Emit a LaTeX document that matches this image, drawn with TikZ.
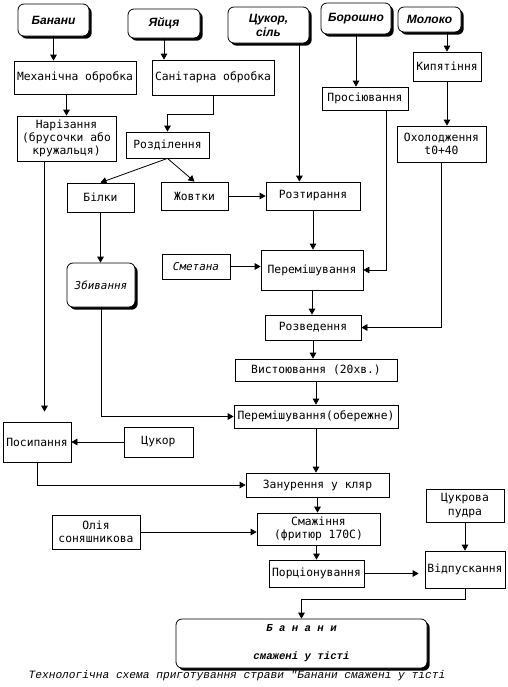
\documentclass[tikz,border=0pt]{standalone}
\usepackage{fontspec}
\setmonofont{Liberation Mono}
\newfontfamily\boxfont{DejaVu Sans Mono}
\newfontfamily\headfont{Liberation Sans}
\usetikzlibrary{arrows.meta,shadows}

\tikzset{
  sz/.style 2 args={minimum width=#1*0.75pt,minimum height=#2*0.75pt},
  proc/.style={draw,line width=0.6pt,inner sep=1pt,align=center,font=\boxfont\fontsize{8.5}{10}\selectfont},
  src/.style={draw,line width=0.6pt,rounded corners=4.5pt,fill=white,align=center,
    drop shadow={shadow xshift=2pt,shadow yshift=-2pt,opacity=1,fill=black},
    font=\headfont\bfseries\itshape\fontsize{9}{10.5}\selectfont},
  slant/.style={font=\boxfont\itshape\fontsize{8.2}{10}\selectfont},
  flow/.style={draw,line width=0.6pt,-{Triangle[width=5pt,length=4.5pt]}},
}

\begin{document}
\begin{tikzpicture}[x=0.75pt,y=-0.75pt]
  \useasboundingbox (0,0) rectangle (508,687);
  \node[src,sz={71}{32}] (ban) at (53.5,20) {Банани};
  \node[src,sz={72}{29}] (egg) at (164,23.5) {Яйця};
  \node[src,sz={81}{36}] (sug) at (268.5,25) {Цукор,\\сіль};
  \node[src,sz={70}{31}] (flour) at (356,18.5) {Борошно};
  \node[src,sz={63}{25}] (milk) at (429.5,19.5) {Молоко};
  \node[proc,sz={122}{33}] (mech) at (75,77.5) {Механічна обробка};
  \node[proc,sz={122}{35}] (san) at (213,77.5) {Санітарна обробка};
  \node[proc,sz={99}{45}] (cut) at (66.5,138.5) {Нарізання\\(брусочки або\\кружальця)};
  \node[proc,sz={83}{26}] (sep) at (167.5,145) {Розділення};
  \node[proc,sz={86}{23}] (sift) at (365,98.5) {Просіювання};
  \node[proc,sz={68}{29}] (boil) at (447,66.5) {Кипятіння};
  \node[proc,sz={89}{36}] (cool) at (441.5,144) {Охолодження\\t0+40};
  \node[proc,sz={67}{29}] (white) at (100.5,197.5) {Білки};
  \node[proc,sz={67}{28}] (yolk) at (194.5,196) {Жовтки};
  \node[proc,sz={94}{28}] (rub) at (313,196) {Розтирання};
  \node[src,slant,sz={68}{44}] (whip) at (101,285) {Збивання};
  \node[proc,slant,sz={68}{25}] (cream) at (196,266.5) {Сметана};
  \node[proc,sz={102}{40}] (mix) at (312,270) {Перемішування};
  \node[proc,sz={96}{25}] (dil) at (313,327.5) {Розведення};
  \node[proc,sz={162}{22}] (rest) at (316,370) {Вистоювання (20хв.)};
  \node[proc,sz={164}{23}] (mix2) at (316,416.5) {Перемішування(обережне)};
  \node[proc,sz={68}{40}] (sprk) at (37,442) {Посипання};
  \node[proc,sz={69}{30}] (sugar) at (158.5,442) {Цукор};
  \node[proc,sz={143}{24}] (dip) at (317.5,485) {Занурення у кляр};
  \node[proc,sz={78}{33}] (powd) at (465,505.5) {Цукрова\\пудра};
  \node[proc,sz={88}{34}] (oil) at (96,532) {Олія\\соняшникова};
  \node[proc,sz={123}{32}] (fry) at (318.5,529) {Смажіння\\(фритюр 170С)};
  \node[proc,sz={95}{27}] (port) at (316.5,573.5) {Порціонування};
  \node[proc,sz={80}{37}] (serve) at (465,569.5) {Відпускання};
  \node[src,sz={251}{49},font=\ttfamily\bfseries\itshape\fontsize{8}{10}\selectfont] (dish) at (301.5,643.5) {Б а н а н и\\[11pt]смажені у тісті};
  \node[font=\ttfamily\itshape\fontsize{8.4}{10}\selectfont] (cap) at (237,676) {Технологічна схема приготування страви "Банани смажені у тісті};

  \coordinate (sugout) at ([xshift=-7.5pt]sug.south east);
  \coordinate (siftout) at ([xshift=-16.5pt]sift.south east);
  \coordinate (cutout) at ([xshift=-16.5pt]cut.south);

  \draw[flow] (ban) -- (ban |- mech.north);
  \draw[flow] (cut |- mech.south) -- (cut);
  \draw[flow] (egg) -- (egg |- san.north);
  \draw[flow] (san.south) -- ++(0,19) -| (sep.north);
  \draw[flow] (sep.south) -- (white.north);
  \draw[flow] (sep.south) -- (yolk.north);
  \draw[flow] (sugout) -- (sugout |- rub.north);
  \draw[flow] (flour) -- (flour |- sift.north);
  \draw[flow] (milk.south -| boil) -- (boil);
  \draw[flow] (boil) -- (boil |- cool.north);
  \draw[flow] (siftout) |- (mix.east);
  \draw[flow] (cool) |- (dil.east);
  \draw[flow] (yolk) -- (rub);
  \draw[flow] (rub) -- (rub |- mix.north);
  \draw[flow] (cream) -- (cream -| mix.west);
  \draw[flow] (white) -- (white |- whip.north);
  \draw[flow] (whip) |- (mix2.west);
  \draw[flow,shorten >=7.5pt] (cutout) -- (cutout |- sprk.north);
  \draw[flow] (mix) -- (mix |- dil.north);
  \draw[flow] (dil) -- (dil |- rest.north);
  \draw[flow] (rest) -- (mix2);
  \draw[flow] (mix2) -- (mix2 |- dip.north);
  \draw[flow] (sugar) -- (sprk);
  \draw[flow] (sprk) |- (dip.west);
  \draw[flow] (dip) -- (dip |- fry.north);
  \draw[flow] (oil) -- (oil -| fry.west);
  \draw[flow] (port |- fry.south) -- (port);
  \draw[flow,shorten >=4.5pt] (port) -- (port -| serve.west);
  \draw[flow] (powd) -- (serve);
  \draw[flow] (serve.south) -- ++(0,11) -| (dish.north);
\end{tikzpicture}
\end{document}
